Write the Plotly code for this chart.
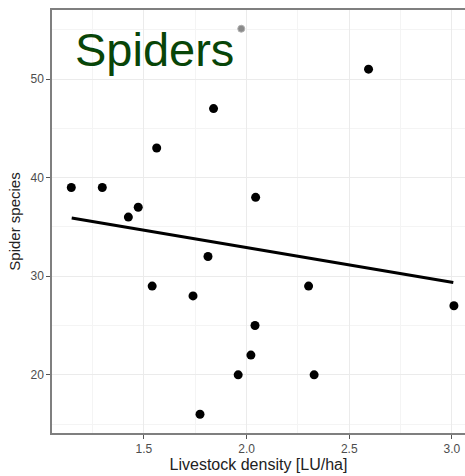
import plotly.graph_objects as go

# Livestock density (LU/ha) and spider species richness per site
livestock = [1.146, 1.297, 1.424, 1.472, 1.540, 1.562, 1.739, 1.773, 1.812,
             1.839, 1.959, 2.021, 2.041, 2.044, 2.302, 2.329, 2.594, 3.010]
species = [39, 39, 36, 37, 29, 43, 28, 16, 32,
           47, 20, 22, 25, 38, 29, 20, 51, 27]

# Highlighted site drawn in grey
grey_x = [1.974]
grey_y = [55.1]

# Fitted trend line
fit_x = [1.148, 3.007]
fit_y = [35.9, 29.36]

x_ticks = [1.5, 2.0, 2.5, 3.0]
x_tick_text = ["1.5", "2.0", "2.5", "3.0"]
y_ticks = [20, 30, 40, 50]

FONT = "Liberation Sans, Arial, sans-serif"
W, H = 465, 476
M_L, M_R, M_T, M_B = 52, 0, 10, 43

fig = go.Figure()
fig.add_trace(go.Scatter(x=fit_x, y=fit_y, mode="lines",
                         line=dict(color="black", width=3), hoverinfo="skip"))
fig.add_trace(go.Scatter(x=livestock, y=species, mode="markers",
                         marker=dict(color="black", size=9)))
fig.add_trace(go.Scatter(x=grey_x, y=grey_y, mode="markers",
                         marker=dict(color="#8a8a8a", size=7,
                                     line=dict(color="#b0b0b0", width=1))))

axis_common = dict(
    showgrid=True, gridcolor="#ebebeb", gridwidth=1,
    zeroline=False, showline=True, linecolor="#7f7f7f", linewidth=1.5,
    ticks="outside", ticklen=4, tickcolor="#555555", tickwidth=1,
    tickfont=dict(family=FONT, size=12, color="#4d4d4d"),
)

fig.update_layout(
    width=W, height=H,
    margin=dict(l=M_L, r=M_R, t=M_T, b=M_B),
    paper_bgcolor="white", plot_bgcolor="white",
    showlegend=False,
    xaxis=dict(range=[1.052, 3.064], tickvals=x_ticks, ticktext=x_tick_text,
               mirror=True,
               minor=dict(dtick=0.25, tick0=1.25, showgrid=True,
                          gridcolor="#f4f4f4", gridwidth=1),
               title=dict(text="Livestock density [LU/ha]", standoff=2,
                          font=dict(family=FONT, size=16, color="#222222")),
               **axis_common),
    yaxis=dict(range=[14.1, 57.0], tickvals=y_ticks,
               minor=dict(dtick=10, tick0=15, showgrid=True,
                          gridcolor="#f4f4f4", gridwidth=1),
               title=dict(text="Spider species", standoff=6,
                          font=dict(family=FONT, size=15, color="#222222")),
               **axis_common),
)

# Panel title placed in pixel terms relative to the plot area
fig.add_annotation(text="Spiders", xref="paper", yref="paper",
                   x=(73 - M_L) / (W - M_L - M_R),
                   y=1 - (21 - M_T) / (H - M_T - M_B),
                   xanchor="left", yanchor="top", showarrow=False,
                   font=dict(family=FONT, size=47, color="#084508"))

fig.write_html("out.html")
